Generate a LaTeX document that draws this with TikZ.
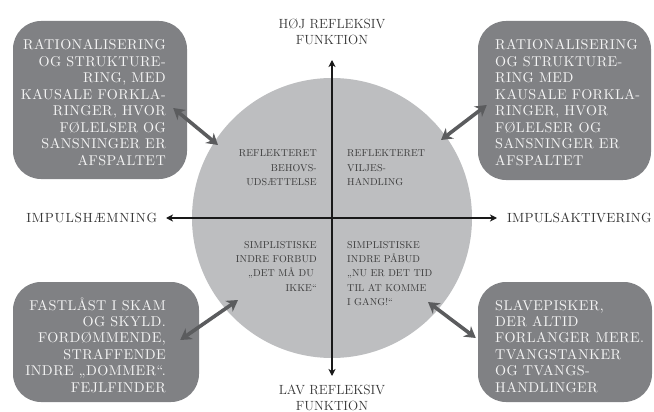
\documentclass[tikz,border=0pt]{standalone}
\usepackage{fontspec}
\newfontfamily\sidefontH[LetterSpace=6]{lmroman10-regular.otf}
\newfontfamily\sidefontA[LetterSpace=2]{lmroman10-regular.otf}
\newfontfamily\boxfont[LetterSpace=3]{lmroman10-regular.otf}
\newfontfamily\quadfont[LetterSpace=1]{lmroman10-regular.otf}
\usetikzlibrary{arrows.meta}
\definecolor{circlegray}{HTML}{BDBEC0}
\definecolor{boxgray}{HTML}{808184}
\definecolor{linkgray}{HTML}{5B5C5E}
\definecolor{labelgray}{HTML}{353535}
\definecolor{innergray}{HTML}{3C3C3C}
\definecolor{boxtext}{HTML}{F5F5F5}
\newcommand{\rlines}[1]{\begin{tabular}[t]{@{}r@{}}#1\end{tabular}}
\newcommand{\llines}[1]{\begin{tabular}[t]{@{}l@{}}#1\end{tabular}}
\begin{document}
\begin{tikzpicture}[x=1pt,y=-1pt,
  boxnode/.style={rectangle, rounded corners=28pt, fill=boxgray, inner sep=0pt},
  boxtxt/.style={inner sep=0pt, text=boxtext, font=\boxfont\fontsize{14.2}{16.45}\selectfont},
  intxt/.style={inner sep=0pt, text=innergray, font=\quadfont\fontsize{10}{14.3}\selectfont},
  axislabel/.style={inner sep=0pt, text=labelgray, font=\fontsize{13.3}{16}\selectfont, align=center},
  axis/.style={line width=1.3pt, black!90, {Stealth[length=7pt,width=7pt,inset=2pt]}-{Stealth[length=7pt,width=7pt,inset=2pt]}},
  link/.style={line width=3.6pt, linkgray, {Stealth[length=11pt,width=13pt,inset=3.5pt]}-{Stealth[length=11pt,width=13pt,inset=3.5pt]}}
]
\useasboundingbox (0,0) rectangle (654,412);
\clip (0,0) rectangle (654,412);

% circle
\node[circle, fill=circlegray, minimum size=280pt, inner sep=0pt] (C) at (332,218) {};

% boxes
\node[boxnode, minimum width=174pt, minimum height=158pt] (tlbox) at (100,100) {};
\node[boxnode, minimum width=173pt, minimum height=159pt] (trbox) at (564.5,100.5) {};
\node[boxnode, minimum width=186pt, minimum height=120pt] (blbox) at (106,342) {};
\node[boxnode, minimum width=174pt, minimum height=120pt] (brbox) at (565,342) {};

% axis labels
\node[axislabel, anchor=south, outer ysep=15pt] (hoj) at (332,60) {HØJ REFLEKSIV\\FUNKTION};
\node[axislabel, anchor=north, outer ysep=9pt] (lav) at (332,376) {LAV REFLEKSIV\\FUNKTION};
\node[axislabel, font=\sidefontH\fontsize{13.3}{16}\selectfont, anchor=east, outer xsep=9pt] (impH) at (166,218) {IMPULSHÆMNING};
\node[axislabel, font=\sidefontA\fontsize{13.3}{16}\selectfont, anchor=west, outer xsep=10pt] (impA) at (497,218) {IMPULSAKTIVERING};

% axes
\draw[axis] (hoj) -- (lav);
\draw[axis] (impH) -- (impA);

% links
\draw[link] ([shift={(-14,8)}]tlbox.east) -- ([shift={(-114,-73)}]C.center);
\draw[link] ([shift={(9,4.5)}]trbox.west) -- ([shift={(109,-78)}]C.center);
\draw[link] ([shift={(-19,-2)}]blbox.east) -- ([shift={(-94,82)}]C.center);
\draw[link] ([shift={(-2,-4)}]brbox.west) -- ([shift={(96,84)}]C.center);

% box texts
\node[boxtxt, anchor=base east] (tltxt) at (166,50) {\rlines{RATIONALISERING\\OG STRUKTURE-\\RING, MED\\KAUSALE FORKLA-\\RINGER, HVOR\\FØLELSER OG\\SANSNINGER ER\\AFSPALTET}};
\node[boxtxt, anchor=base west] (trtxt) at (495,50) {\llines{RATIONALISERING\\OG STRUKTURE-\\RING MED\\KAUSALE FORKLA-\\RINGER, HVOR\\FØLELSER OG\\SANSNINGER ER\\AFSPALTET}};
\node[boxtxt, anchor=base east] (bltxt) at (166,310) {\rlines{FASTLÅST I SKAM\\OG SKYLD.\\FORDØMMENDE,\\STRAFFENDE\\INDRE „DOMMER“.\\FEJLFINDER}};
\node[boxtxt, anchor=base west] (brtxt) at (495,310) {\llines{SLAVEPISKER,\\DER ALTID\\FORLANGER MERE.\\TVANGSTANKER\\OG TVANGS-\\HANDLINGER}};

% circle texts
\node[intxt, anchor=base east] (q1) at (317,156.7) {\rlines{REFLEKTERET\\BEHOVS-\\UDSÆTTELSE}};
\node[intxt, anchor=base west] (q2) at (347,156.7) {\llines{REFLEKTERET\\VILJES-\\HANDLING}};
\node[intxt, anchor=base east] (q3) at (317,248.3) {\rlines{SIMPLISTISKE\\INDRE FORBUD\\„DET MÅ DU\hspace*{3pt}\\IKKE“}};
\node[intxt, anchor=base west] (q4) at (347,248.3) {\llines{SIMPLISTISKE\\INDRE PÅBUD\\„NU ER DET TID\\TIL AT KOMME\\I GANG!“}};
\end{tikzpicture}
\end{document}
